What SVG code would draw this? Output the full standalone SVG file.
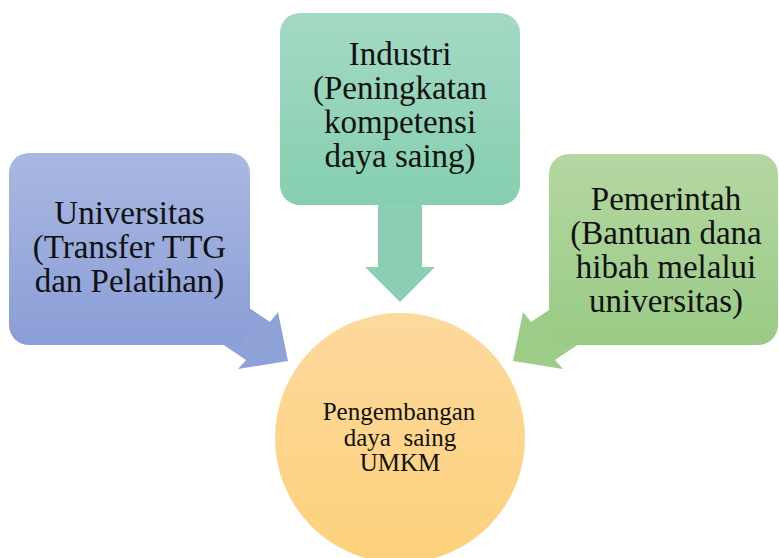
<svg xmlns="http://www.w3.org/2000/svg" width="779" height="558" viewBox="0 0 779 558">
<style>
text{font-family:"Liberation Serif","Times New Roman",serif;fill:#111;text-anchor:middle}
.big{font-size:33px}
.small{font-size:25px}
</style>
<defs>
<linearGradient id="gBlue" x1="0" y1="0" x2="0" y2="1"><stop offset="0" stop-color="#a9b8e1"/><stop offset="1" stop-color="#8a9ed7"/></linearGradient>
<linearGradient id="gTeal" x1="0" y1="0" x2="0" y2="1"><stop offset="0" stop-color="#a4d9c4"/><stop offset="1" stop-color="#85cfb0"/></linearGradient>
<linearGradient id="gGreen" x1="0" y1="0" x2="0" y2="1"><stop offset="0" stop-color="#b4d7a1"/><stop offset="1" stop-color="#9acb86"/></linearGradient>
<linearGradient id="gOrange" x1="0" y1="0" x2="0" y2="1"><stop offset="0" stop-color="#fdd99d"/><stop offset="1" stop-color="#fdd17b"/></linearGradient>
</defs>
<g id="connectors">
<polygon fill="#8fa2d8" points="212,283 270,322 278,312 288,361 238,369 246,360 188,321"/>
<polygon fill="#8ccfb3" points="378,190 422,190 422,267 435,267 400,302 365,267 378,267"/>
<polygon fill="#9ecc89" points="589,283 531,322 523,312 513,361 563,369 555,360 613,321"/>
</g>
<g id="universitas">
<rect x="9" y="153" width="241" height="192" rx="20" fill="url(#gBlue)"/>
<text class="big" x="129.5" y="224">Universitas</text>
<text class="big" x="129.5" y="258">(Transfer TTG</text>
<text class="big" x="129.5" y="292">dan Pelatihan)</text>
</g>
<g id="industri">
<rect x="280" y="13" width="240" height="192" rx="20" fill="url(#gTeal)"/>
<text class="big" x="400" y="65">Industri</text>
<text class="big" x="400" y="99">(Peningkatan</text>
<text class="big" x="400" y="133">kompetensi</text>
<text class="big" x="400" y="167">daya saing)</text>
</g>
<g id="pemerintah">
<rect x="549" y="154" width="229" height="191" rx="20" fill="url(#gGreen)"/>
<text class="big" x="666" y="210">Pemerintah</text>
<text class="big" x="666" y="244">(Bantuan dana</text>
<text class="big" x="666" y="278">hibah melalui</text>
<text class="big" x="666" y="312">universitas)</text>
</g>
<g id="umkm">
<circle cx="400" cy="438" r="125" fill="url(#gOrange)"/>
<text class="small" x="399" y="420">Pengembangan</text>
<text class="small" x="400" y="445.5" xml:space="preserve">daya  saing</text>
<text class="small" x="400" y="471">UMKM</text>
</g>
</svg>
